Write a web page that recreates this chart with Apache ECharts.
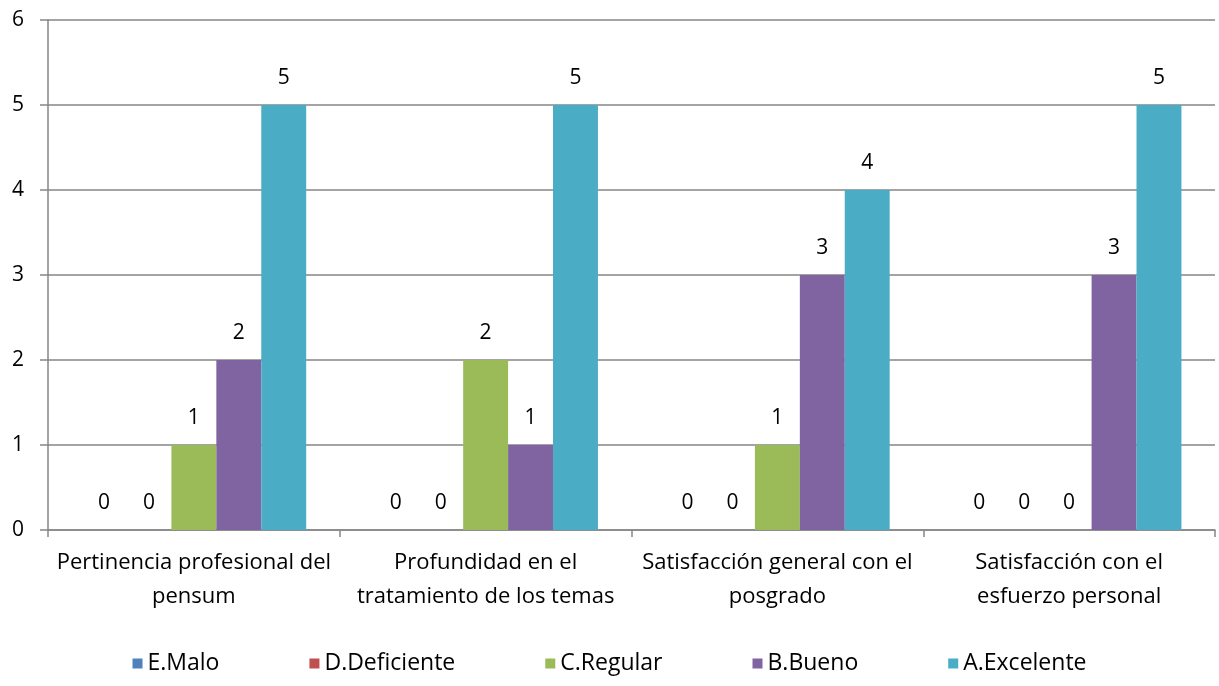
<!DOCTYPE html>
<html>
<head>
<meta charset="utf-8">
<script src="https://cdn.jsdelivr.net/npm/echarts@6/dist/echarts.min.js"></script>
<style>
html,body{margin:0;padding:0;background:#fff;}
#chart{width:1219px;height:686px;}
</style>
</head>
<body>
<div id="chart"></div>
<script>
const categories = [
  "Pertinencia profesional del\npensum",
  "Profundidad en el\ntratamiento de los temas",
  "Satisfacción general con el\nposgrado",
  "Satisfacción con el\nesfuerzo personal"
];
const seriesNames = ["E.Malo", "D.Deficiente", "C.Regular", "B.Bueno", "A.Excelente"];
const malo = [0, 0, 0, 0];
const deficiente = [0, 0, 0, 0];
const regular = [1, 2, 1, 0];
const bueno = [2, 1, 3, 3];
const excelente = [5, 5, 4, 5];
const colors = ["#4F81BD", "#C0504D", "#9BBB59", "#8064A2", "#4BACC6"];

const FONT = "Open Sans";
const values = [malo, deficiente, regular, bueno, excelente];

const chart = echarts.init(document.getElementById('chart'), null, {renderer: 'canvas'});
chart.setOption({
  animation: false,
  backgroundColor: '#ffffff',
  color: colors,
  textStyle: {fontFamily: FONT},
  grid: {left: 48, right: 4, top: 20, bottom: 156, containLabel: false},
  legend: {
    bottom: 6,
    left: 'center',
    itemWidth: 10,
    itemHeight: 10,
    itemGap: 90,
    icon: 'rect',
    textStyle: {fontFamily: FONT, fontSize: 23, color: '#000'},
    data: seriesNames
  },
  xAxis: {
    type: 'category',
    data: categories,
    axisLine: {lineStyle: {color: '#868686', width: 1.5}},
    axisTick: {show: true, alignWithLabel: false, length: 7, lineStyle: {color: '#868686', width: 1.5}},
    axisLabel: {fontFamily: FONT, fontSize: 22, color: '#000', lineHeight: 34, margin: 16, interval: 0}
  },
  yAxis: {
    type: 'value',
    min: 0, max: 6, interval: 1,
    axisLine: {show: true, lineStyle: {color: '#868686', width: 1.5}},
    axisTick: {show: true, length: 8, lineStyle: {color: '#868686', width: 1.5}},
    axisLabel: {fontFamily: FONT, fontSize: 21, color: '#000', margin: 24},
    splitLine: {show: true, lineStyle: {color: '#868686', width: 1.5}}
  },
  series: seriesNames.map((n, i) => ({
    name: n,
    type: 'bar',
    data: values[i],
    barGap: '0%',
    barCategoryGap: '23%',
    itemStyle: {color: colors[i]},
    label: {show: true, position: 'top', distance: 16, fontFamily: FONT, fontSize: 21, color: '#000'}
  }))
});
</script>
</body>
</html>
